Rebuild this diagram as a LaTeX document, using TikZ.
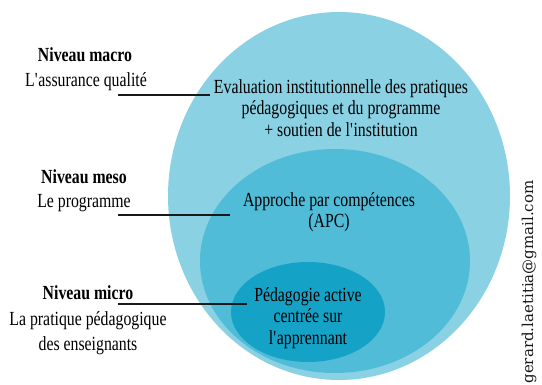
\documentclass[tikz,border=0pt]{standalone}
\usepackage{fontspec}
\setmainfont{Liberation Serif}[FakeStretch=0.79]
\newfontfamily\mailfont{DejaVu Serif}
\usetikzlibrary{positioning}
\definecolor{levelouter}{RGB}{137,209,227}
\definecolor{levelmiddle}{RGB}{80,188,216}
\definecolor{levelinner}{RGB}{20,162,198}
\definecolor{linkgray}{RGB}{25,25,25}
\newcommand{\q}{\textquotesingle}

\begin{document}
\begin{tikzpicture}[x=1pt,y=-1pt,
    leveltitle/.style={font=\bfseries\fontsize{20}{22}\selectfont},
    leveltext/.style={font=\fontsize{20}{21.5}\selectfont, align=center},
    link/.style={line width=1.3pt, linkgray}]
    \useasboundingbox (0,0) rectangle (542,385);

    % Nested levels
    \fill[levelouter] (339,196) ellipse [x radius=171, y radius=184];
    \fill[levelmiddle] (335,261) ellipse [x radius=135, y radius=112];
    \fill[levelinner] (308,312) ellipse [x radius=77, y radius=50];

    % Texts inside the levels
    \node[leveltext] (eval) at (341,108) {Evaluation institutionnelle des pratiques\\
        pédagogiques et du programme\\ + soutien de l\q institution};
    \node[leveltext] (apc) at (329,212) {Approche par compétences\\ (APC)};
    \node[leveltext] (active) at (308,318) {Pédagogie active\\ centrée sur\\ l\q apprennant};

    % Level names on the left
    \node[leveltitle] (macro) at (85,55) {Niveau macro};
    \node[leveltext] (macrodesc) at (86,82) {L\q assurance qualité};
    \node[leveltitle] (meso) at (84,177) {Niveau meso};
    \node[leveltext] (mesodesc) at (84,203) {Le programme};
    \node[leveltitle] (micro) at (88,293) {Niveau micro};
    \node[leveltext, font=\fontsize{20}{25}\selectfont] (microdesc) at (88,333) {La pratique pédagogique\\ des enseignants};

    % Links
    \coordinate (macroL) at (118,95);
    \coordinate (mesoL) at (118,215);
    \coordinate (microL) at (118,304);
    \draw[link] (macroL) -- (macroL -| eval.west);
    \draw[link, shorten >=9pt] (mesoL) -- (mesoL -| apc.west);
    \draw[link, shorten >=4pt] (microL) -- (microL -| active.west);

    \node[rotate=90, font=\mailfont\fontsize{15}{17}\selectfont, text=linkgray] (mail) at (529,282) {gerard.laetitia@gmail.com};
\end{tikzpicture}
\end{document}
